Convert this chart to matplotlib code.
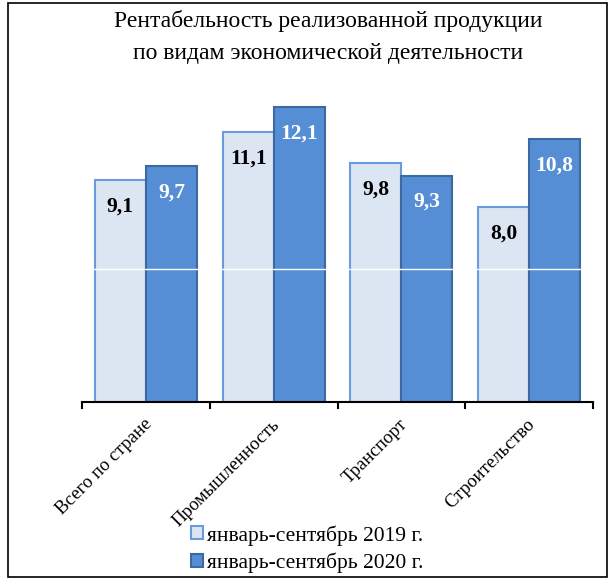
import matplotlib
matplotlib.use("Agg")
import matplotlib.pyplot as plt
import numpy as np
from matplotlib.patches import Rectangle

categories = ["Всего по стране", "Промышленность", "Транспорт", "Строительство"]
series_names = ["январь-сентябрь 2019 г.", "январь-сентябрь 2020 г."]
values_2019 = [9.1, 11.1, 9.8, 8.0]
values_2020 = [9.7, 12.1, 9.3, 10.8]
labels_2019 = ["9,1", "11,1", "9,8", "8,0"]
labels_2020 = ["9,7", "12,1", "9,3", "10,8"]

plt.rcParams['font.family'] = ['Liberation Serif', 'DejaVu Serif']

fig = plt.figure(figsize=(6.10, 5.79), dpi=100)
ax = fig.add_axes([82/610, 1-402/579, (593-82)/610, 14*24.35/579])

x = np.arange(len(categories))
w = 0.4
light_fill, light_edge = "#DCE6F2", "#6A9BDC"
dark_fill, dark_edge = "#558ED5", "#3C6AA0"

b1 = ax.bar(x - w/2, values_2019, w, color=light_fill, edgecolor=light_edge, linewidth=1.5,
            label=series_names[0], zorder=2)
b2 = ax.bar(x + w/2, values_2020, w, color=dark_fill, edgecolor=dark_edge, linewidth=1.5,
            label=series_names[1], zorder=2)

ax.axhline(5.47, color="white", linewidth=1, zorder=3)

for xi, v, t in zip(x - w/2, values_2019, labels_2019):
    ax.annotate(t, (xi, v), xytext=(0, -19), textcoords="offset points",
                ha="center", va="center", fontsize=15.5, fontweight="bold", color="black", zorder=4)
for xi, v, t in zip(x + w/2, values_2020, labels_2020):
    ax.annotate(t, (xi, v), xytext=(0, -19), textcoords="offset points",
                ha="center", va="center", fontsize=15.5, fontweight="bold", color="white", zorder=4)

ax.set_xlim(-0.5, len(categories) - 0.5)
ax.set_ylim(0, 14)
ax.set_yticks([])
for s in ["left", "right", "top"]:
    ax.spines[s].set_visible(False)
ax.spines["bottom"].set_linewidth(1.5)
ax.spines["bottom"].set_zorder(5)

ax.set_xticks(np.arange(len(categories) + 1) - 0.5)
ax.set_xticklabels([])
ax.tick_params(axis="x", direction="out", length=5, width=1.5)

for xi, c in zip(x, categories):
    ax.annotate(c, (xi, 0), xytext=(-2, -10), textcoords="offset points",
                rotation=45, ha="right", va="top", rotation_mode="anchor",
                fontsize=13.5, annotation_clip=False)

fig.text(0.538, 1-21/579, "Рентабельность реализованной продукции", ha="center", va="center", fontsize=17)
fig.text(0.538, 1-53/579, "по видам экономической деятельности", ha="center", va="center", fontsize=17)

leg = fig.legend(handles=[b1, b2], loc="center", bbox_to_anchor=(0.504, 1-549/579),
                 ncol=1, frameon=False, fontsize=15.5, handlelength=0.55, handleheight=0.55,
                 handletextpad=0.2, labelspacing=0.32, borderpad=0)

fig.patches.append(Rectangle((8/610, 2/579), 599/610, 574/579, transform=fig.transFigure,
                             fill=False, edgecolor="black", linewidth=1.2))

fig.savefig("out.png", dpi=100)
